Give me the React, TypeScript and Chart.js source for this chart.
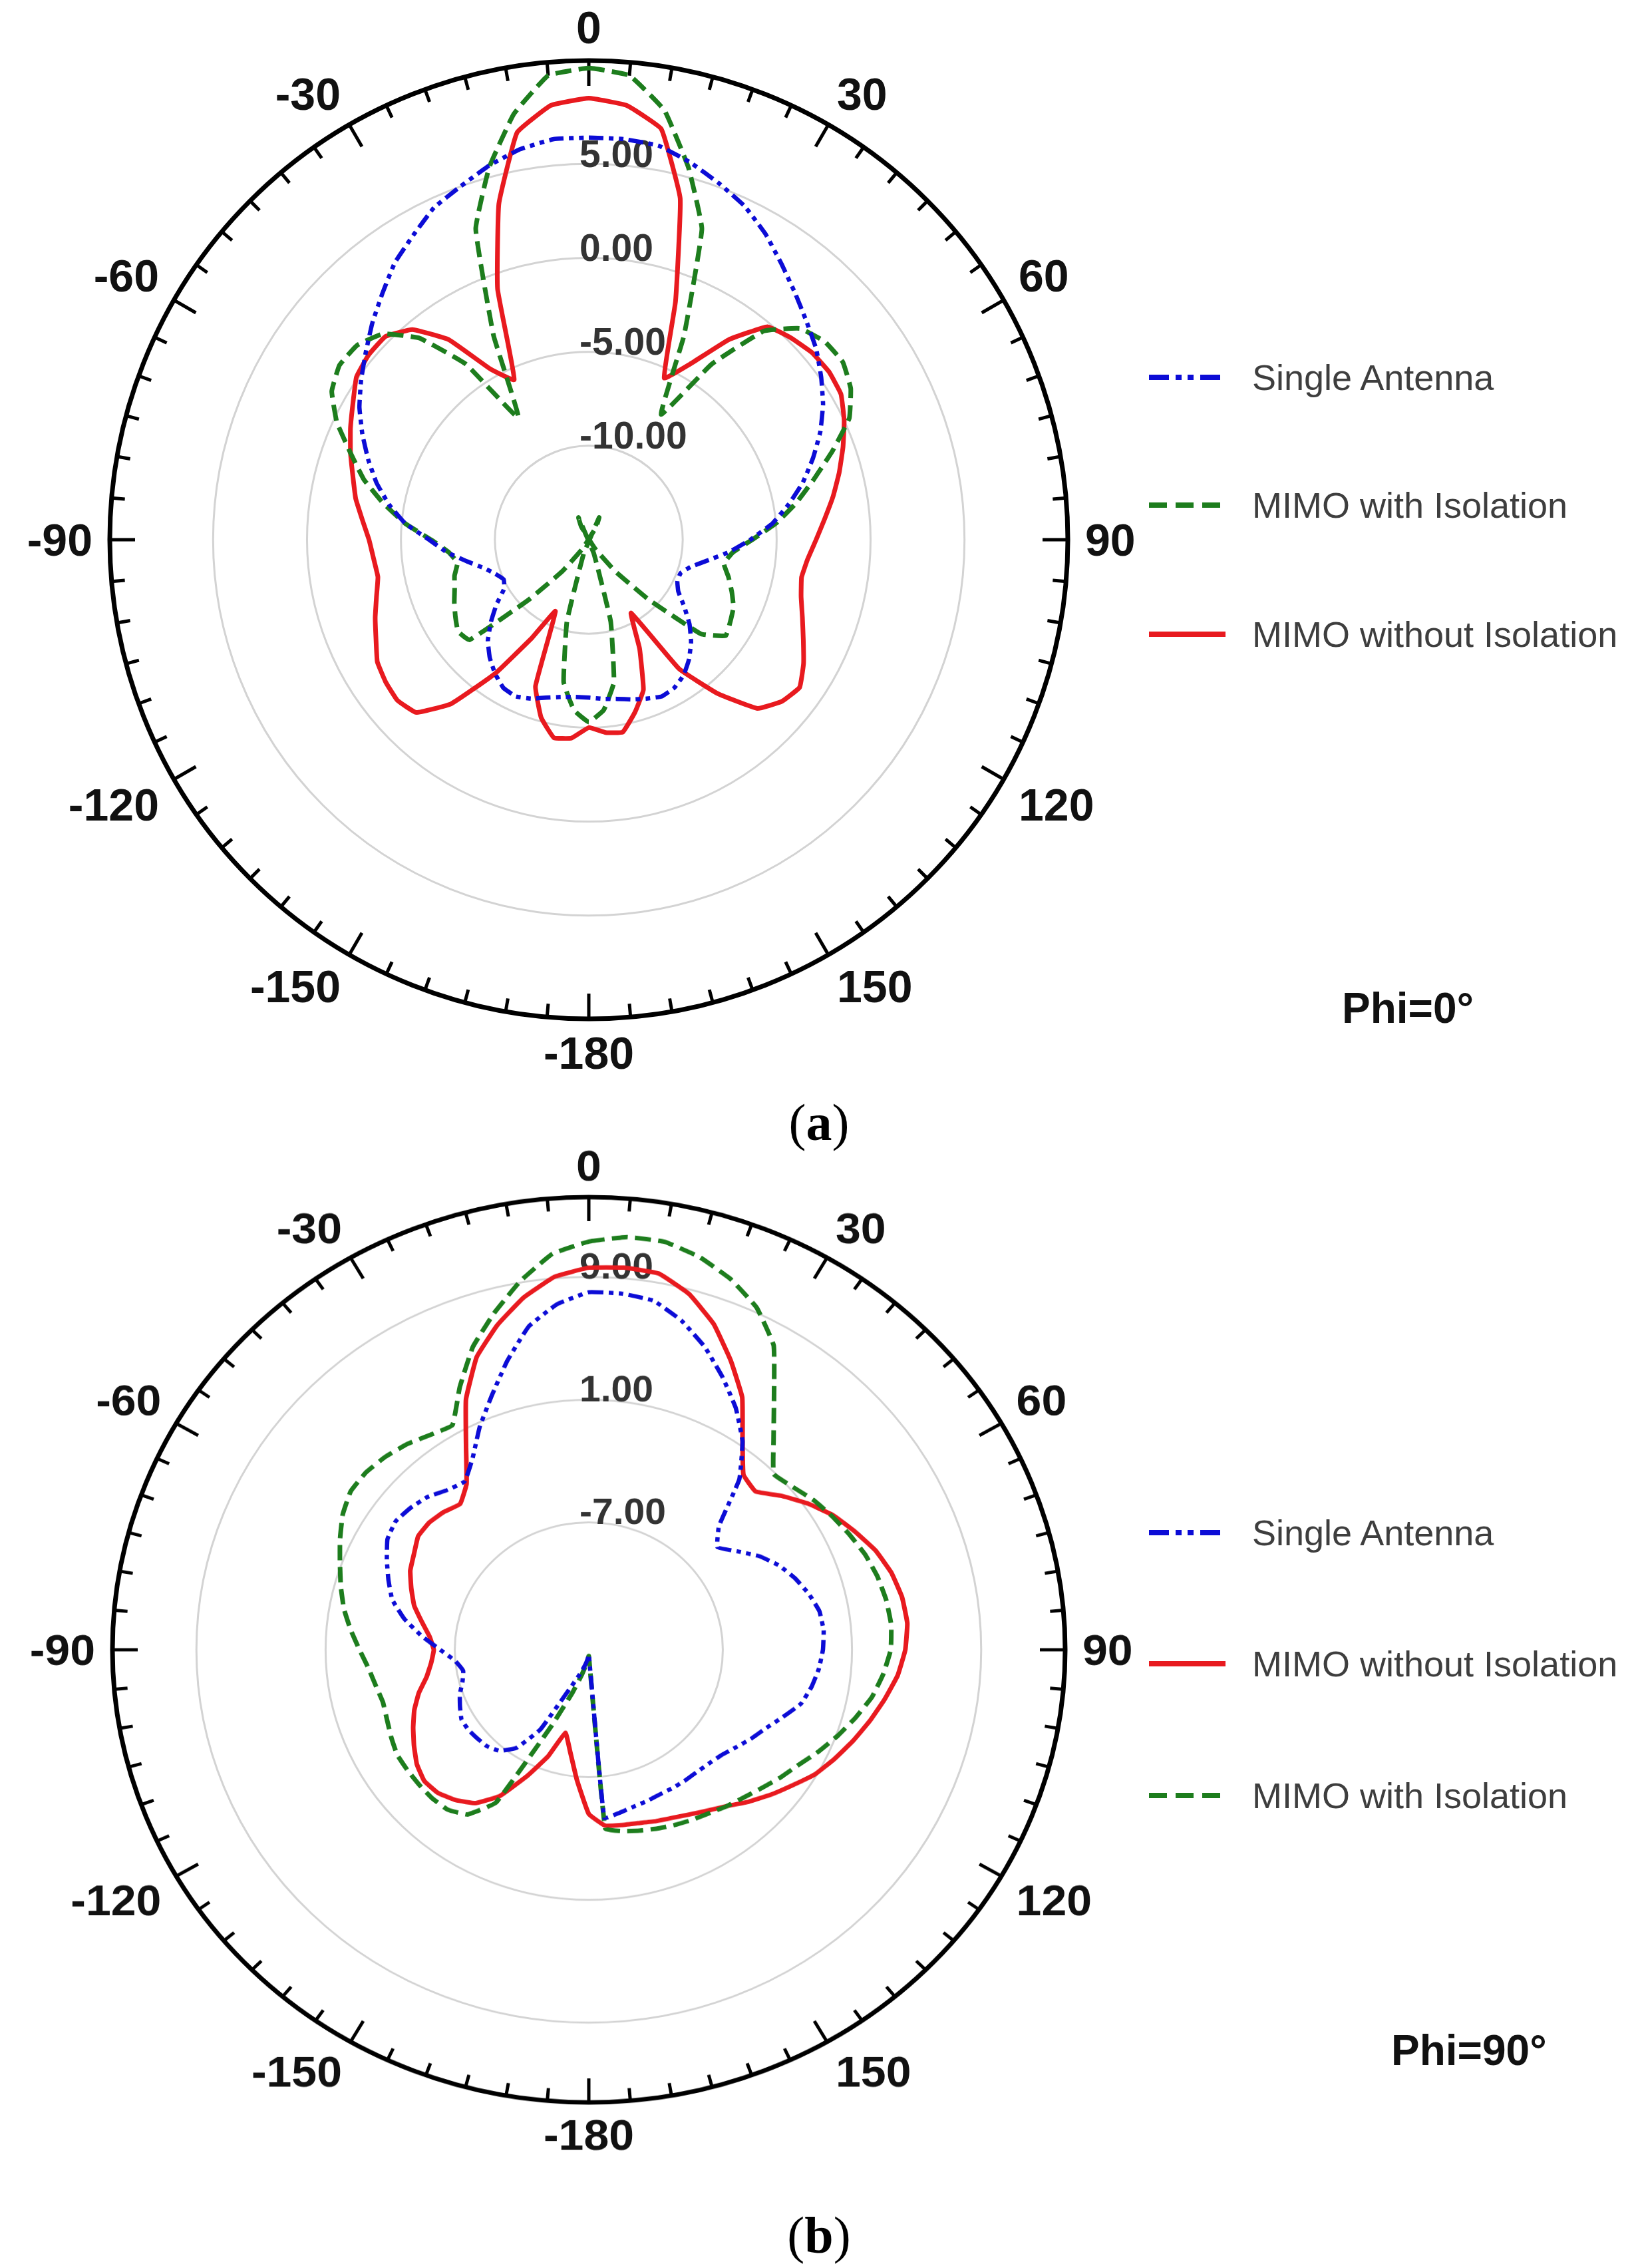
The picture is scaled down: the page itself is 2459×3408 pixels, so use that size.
import React, { useEffect, useRef } from 'react';
import { Chart, registerables } from 'chart.js';

Chart.register(...registerables);
Chart.defaults.font.family = '"Liberation Sans", Arial, sans-serif';

// ---------- categories (angle in degrees, clockwise from top) ----------
const DEG_LABELS = ['0','5','10','15','20','25','30','35','40','45','50','55','60','65','70','75','80','85','90','95','100','105','110','115','120','125','130','135','140','145','150','155','160','165','170','175','-180','-175','-170','-165','-160','-155','-150','-145','-140','-135','-130','-125','-120','-115','-110','-105','-100','-95','-90','-85','-80','-75','-70','-65','-60','-55','-50','-45','-40','-35','-30','-25','-20','-15','-10','-5'];

const SERIES_NAMES = ['Single Antenna', 'MIMO with Isolation', 'MIMO without Isolation'];

// ---------- (a) Phi = 0 deg, gain in dB ----------
const SINGLE_A = [6.4,6.4,6.3,5.8,5.2,4.6,3.8,2.9,2.1,1.4,0.8,0.1,-0.6,-1.4,-2.3,-3.2,-4.2,-5.2,-6.4,-7.5,-8.6,-9.4,-9.8,-9.8,-9.5,-8.8,-8.0,-7.3,-6.7,-6.2,-5.9,-5.8,-6.0,-6.2,-6.4,-6.5,
  -6.6,-6.6,-6.5,-6.3,-6.0,-5.8,-5.9,-6.3,-6.8,-7.4,-8.2,-9.0,-9.8,-10.0,-9.7,-9.2,-8.4,-7.4,-6.5,-5.2,-4.2,-3.3,-2.5,-1.7,-0.9,-0.2,0.5,1.3,2.1,3.0,3.7,4.5,5.0,5.6,6.1,6.4];
const WITH_ISO_A = [10.1,9.8,8.2,5.5,2.6,-3.0,-7.3,-3.6,-0.5,0.9,1.4,1.5,1.1,0.3,-1.2,-2.6,-3.8,-5.0,-6.3,-7.3,-7.7,-7.3,-6.9,-6.5,-6.3,-6.1,-7.2,-10.5,-12.8,-14.4,-15.8,-16.3,-14.2,-10.5,-7.3,-5.9,
  -5.3,-5.9,-7.3,-10.5,-14.2,-16.3,-15.8,-14.4,-12.8,-10.5,-6.7,-6.5,-6.8,-7.1,-7.4,-7.6,-7.9,-7.5,-6.6,-5.2,-3.9,-2.6,-1.5,-0.2,0.8,1.2,1.1,0.5,-1.0,-3.6,-7.5,-3.0,2.6,5.5,8.0,9.8];
const WITHOUT_ISO_A = [8.5,8.2,7.2,3.8,-1.5,-5.5,-4.2,-2.0,-0.2,0.2,0.5,0.6,0.5,0.0,-0.6,-1.2,-1.8,-2.4,-2.9,-3.3,-3.5,-3.3,-2.9,-2.4,-1.8,-1.3,-1.6,-2.3,-4.3,-6.6,-10.5,-8.6,-6.5,-5.5,-4.6,-4.7,
  -5.0,-4.4,-4.3,-5.2,-6.7,-10.8,-9.0,-6.3,-3.6,-2.0,-1.7,-1.8,-2.0,-2.5,-2.9,-3.3,-3.6,-3.5,-3.3,-2.9,-2.4,-2.0,-1.5,-1.0,-0.5,0.1,0.3,0.3,-0.4,-2.0,-4.5,-5.6,-0.8,3.5,7.0,8.2];

// ---------- (b) Phi = 90 deg, gain in dB ----------
const SINGLE_B = [8.0,8.0,7.8,6.9,5.7,4.3,2.9,1.3,-0.8,-3.9,-4.9,-4.1,-3.1,-2.3,-1.7,-1.2,-0.8,-0.7,-0.8,-1.0,-1.3,-1.7,-2.5,-3.2,-3.7,-4.2,-4.6,-4.8,-4.9,-4.9,-4.9,-4.9,-4.8,-4.7,-4.5,-4.3,
  -15.0,-14.8,-14.5,-14.1,-13.5,-12.5,-9.3,-7.5,-6.7,-6.4,-6.3,-6.2,-6.2,-6.5,-6.8,-7.2,-7.4,-7.0,-6.1,-4.9,-3.7,-2.7,-2.1,-1.5,-0.9,-0.7,-0.9,-1.2,-1.7,-1.9,-0.9,0.7,2.3,4.2,6.1,7.3];
const WITH_ISO_B = [11.3,11.7,11.7,11.2,10.4,9.3,7.6,4.7,2.5,0.9,1.2,1.7,2.1,2.5,2.9,3.2,3.4,3.5,3.4,3.0,2.5,1.8,1.1,0.4,-0.3,-0.8,-1.3,-1.7,-2.0,-2.3,-2.5,-2.7,-2.9,-3.1,-3.3,-3.6,
  -14.9,-14.7,-14.3,-13.6,-12.3,-9.8,-3.8,-2.2,-1.7,-1.6,-1.6,-1.6,-1.6,-1.8,-2.0,-2.1,-1.9,-1.6,-1.1,-0.5,0.1,0.6,1.1,1.7,2.3,2.7,2.7,2.5,2.2,1.8,1.6,3.6,5.7,7.4,9.1,10.6];
const WITHOUT_ISO_B = [9.6,9.7,9.6,8.7,7.3,5.5,3.7,1.3,-0.4,-0.7,0.3,1.3,2.2,2.9,3.6,4.1,4.4,4.5,4.3,3.9,3.3,2.7,2.1,1.5,0.9,0.1,-0.6,-1.3,-2.0,-2.5,-2.9,-3.2,-3.4,-3.6,-3.7,-3.8,
  -4.6,-6.8,-8.6,-9.7,-7.9,-6.2,-4.3,-3.1,-2.5,-2.1,-2.0,-2.3,-2.8,-3.3,-3.8,-4.4,-5.1,-5.5,-5.7,-5.4,-4.8,-4.1,-3.6,-3.1,-2.8,-2.4,-2.4,-2.6,-2.9,-2.1,-0.1,2.7,5.0,6.6,8.0,9.1];

// ---------- radial scales and tick labels ----------
const RANGE_A = [-15, 10.5];
const RINGS_A = [-10, -5, 0, 5];
const RANGE_B = [-15.3, 14.2];
const RINGS_B = [-7, 1, 9];

// ---------- styles ----------
const BLUE = '#0c0cd6';
const GREEN = '#1d7d1d';
const RED = '#e81a1f';
const STYLE = {
  single: { color: BLUE, width: 6.5, dash: [22, 8, 7, 8, 7, 8], svgDash: '30 10 9 9 9 10' },
  withIso: { color: GREEN, width: 7, dash: [24, 11], svgDash: '27 13' },
  withoutIso: { color: RED, width: 7, dash: [], svgDash: '' },
};

const LABEL_PAD = 26;
const LABEL_FONT = 68;
const VALUE_FONT = 57;

function makeDecor(rings: number[], valueLift: number) {
  return {
    id: 'polarDecor',
    beforeDatasetsDraw(chart: any) {
      const s = chart.scales.r;
      const ctx = chart.ctx;
      const R = s.getDistanceFromCenterForValue(s.max);
      const labels: string[] = chart.data.labels;
      ctx.save();
      ctx.strokeStyle = '#000';
      ctx.lineWidth = 5;
      ctx.lineCap = 'butt';
      labels.forEach((lbl, i) => {
        const major = Number(lbl) % 30 === 0;
        const len = major ? 38 : 20;
        const p1 = s.getPointPosition(i, R);
        const p2 = s.getPointPosition(i, R - len);
        ctx.beginPath();
        ctx.moveTo(p1.x, p1.y);
        ctx.lineTo(p2.x, p2.y);
        ctx.stroke();
      });
      ctx.font = `bold ${VALUE_FONT}px "Liberation Sans", Arial, sans-serif`;
      ctx.fillStyle = '#333333';
      ctx.textAlign = 'left';
      ctx.textBaseline = 'alphabetic';
      const cap = VALUE_FONT * 0.716;
      rings.forEach((v) => {
        const d = s.getDistanceFromCenterForValue(v);
        ctx.fillText(v.toFixed(2), s.xCenter - 14, s.yCenter - d - valueLift + cap / 2);
      });
      ctx.restore();
    },
    afterDraw(chart: any) {
      const s = chart.scales.r;
      const ctx = chart.ctx;
      const R = s.getDistanceFromCenterForValue(s.max);
      const labels: string[] = chart.data.labels;
      const n = labels.length;
      const cap = LABEL_FONT * 0.716;
      ctx.save();
      ctx.font = `bold ${LABEL_FONT}px "Liberation Sans", Arial, sans-serif`;
      ctx.fillStyle = '#111';
      ctx.textBaseline = 'alphabetic';
      labels.forEach((lbl, i) => {
        if (Number(lbl) % 30 !== 0) return;
        const a = (i * 360) / n;
        const p = s.getPointPosition(i, R + LABEL_PAD);
        ctx.textAlign = a === 0 || a === 180 ? 'center' : a < 180 ? 'left' : 'right';
        let base;
        if (a === 90 || a === 270) base = p.y + cap / 2;
        else if (a < 90 || a > 270) base = p.y;
        else base = p.y + cap;
        ctx.fillText(lbl, p.x, base);
      });
      ctx.restore();
    },
  };
}

type Series = { name: string; data: number[]; style: any };

function PolarPattern(props: {
  range: number[];
  rings: number[];
  series: Series[];
  left: number;
  top: number;
  radius: number;
  pad: { left: number; right: number; top: number; bottom: number };
  squash: number;
  valueLift: number;
}) {
  const ref = useRef<HTMLCanvasElement | null>(null);
  const { range, rings, series, left, top, radius, pad, squash, valueLift } = props;
  const width = radius * 2 + pad.left + pad.right;
  const height = radius * 2 + pad.top + pad.bottom;
  useEffect(() => {
    const [min, max] = range;
    const chart = new Chart(ref.current as HTMLCanvasElement, {
      type: 'radar',
      data: {
        labels: DEG_LABELS,
        datasets: series.map((s) => ({
          label: s.name,
          data: s.data,
          borderColor: s.style.color,
          backgroundColor: 'rgba(0,0,0,0)',
          borderWidth: s.style.width,
          borderDash: s.style.dash,
          borderJoinStyle: 'round',
          pointRadius: 0,
          pointHoverRadius: 0,
          fill: false,
          tension: 0.1,
        })),
      },
      options: {
        responsive: false,
        maintainAspectRatio: false,
        animation: false,
        devicePixelRatio: 1,
        layout: { padding: pad },
        plugins: { legend: { display: false }, tooltip: { enabled: false } },
        scales: {
          r: {
            min,
            max,
            startAngle: 0,
            angleLines: { display: false },
            pointLabels: { display: false },
            ticks: { display: false },
            afterBuildTicks: (scale: any) => {
              scale.ticks = [min, ...rings, max].map((v) => ({ value: v }));
            },
            grid: {
              circular: true,
              color: (c: any) => (c.tick && c.tick.value >= max - 1e-6 ? '#000000' : '#d3d3d3'),
              lineWidth: (c: any) => (c.tick && c.tick.value >= max - 1e-6 ? 7 : 3),
            },
          },
        },
      } as any,
      plugins: [makeDecor(rings, valueLift)],
    });
    return () => chart.destroy();
  }, []);
  return (
    <canvas
      ref={ref}
      width={width}
      height={height}
      style={{
        position: 'absolute',
        left,
        top,
        width,
        height,
        transformOrigin: `${pad.left + radius}px ${pad.top + radius}px`,
        transform: `scaleY(${squash})`,
      }}
    />
  );
}

function LegendItem(props: { y: number; name: string; style: any }) {
  const { y, name, style } = props;
  return (
    <div style={{ position: 'absolute', left: 1727, top: y - 35, height: 70, display: 'flex', alignItems: 'center' }}>
      <svg width={115} height={16} style={{ display: 'block' }}>
        <line x1={0} y1={8} x2={style.svgDash ? 107 : 115} y2={8} stroke={style.color} strokeWidth={8}
          strokeDasharray={style.svgDash || undefined} />
      </svg>
      <span style={{ marginLeft: 40, font: '54px "Liberation Sans", Arial, sans-serif', color: '#3e3e3e', lineHeight: '70px', whiteSpace: 'nowrap' }}>
        {name}
      </span>
    </div>
  );
}

export default function App() {
  const seriesA: Series[] = [
    { name: SERIES_NAMES[0], data: SINGLE_A, style: STYLE.single },
    { name: SERIES_NAMES[1], data: WITH_ISO_A, style: STYLE.withIso },
    { name: SERIES_NAMES[2], data: WITHOUT_ISO_A, style: STYLE.withoutIso },
  ];
  const seriesB: Series[] = [
    { name: SERIES_NAMES[0], data: SINGLE_B, style: STYLE.single },
    { name: SERIES_NAMES[1], data: WITH_ISO_B, style: STYLE.withIso },
    { name: SERIES_NAMES[2], data: WITHOUT_ISO_B, style: STYLE.withoutIso },
  ];
  return (
    <div style={{ position: 'absolute', left: 0, top: 0, width: 2459, height: 3408, background: '#fff', overflow: 'hidden' }}>
      <PolarPattern range={RANGE_A} rings={RINGS_A} series={seriesA} left={35} top={0} radius={720}
        pad={{ left: 130, right: 130, top: 91, bottom: 100 }} squash={1} valueLift={16} />
      <PolarPattern range={RANGE_B} rings={RINGS_B} series={seriesB} left={39} top={1663} radius={716}
        pad={{ left: 130, right: 130, top: 100, bottom: 100 }} squash={0.95} valueLift={18} />

      <LegendItem y={567} name={SERIES_NAMES[0]} style={STYLE.single} />
      <LegendItem y={759} name={SERIES_NAMES[1]} style={STYLE.withIso} />
      <LegendItem y={953} name={SERIES_NAMES[2]} style={STYLE.withoutIso} />

      <LegendItem y={2303} name={SERIES_NAMES[0]} style={STYLE.single} />
      <LegendItem y={2500} name={SERIES_NAMES[2]} style={STYLE.withoutIso} />
      <LegendItem y={2698} name={SERIES_NAMES[1]} style={STYLE.withIso} />

      <div style={{ position: 'absolute', left: 2017, top: 1475, font: 'bold 64px "Liberation Sans", Arial, sans-serif', lineHeight: '80px', color: '#111' }}>Phi=0°</div>
      <div style={{ position: 'absolute', left: 2091, top: 3041, font: 'bold 64px "Liberation Sans", Arial, sans-serif', lineHeight: '80px', color: '#111' }}>Phi=90°</div>

      <div style={{ position: 'absolute', left: 1131, top: 1640, width: 200, textAlign: 'center', font: '78px "Liberation Serif", "Times New Roman", serif', lineHeight: '94px', color: '#000' }}>(<b>a</b>)</div>
      <div style={{ position: 'absolute', left: 1131, top: 3312, width: 200, textAlign: 'center', font: '78px "Liberation Serif", "Times New Roman", serif', lineHeight: '94px', color: '#000' }}>(<b>b</b>)</div>
    </div>
  );
}
